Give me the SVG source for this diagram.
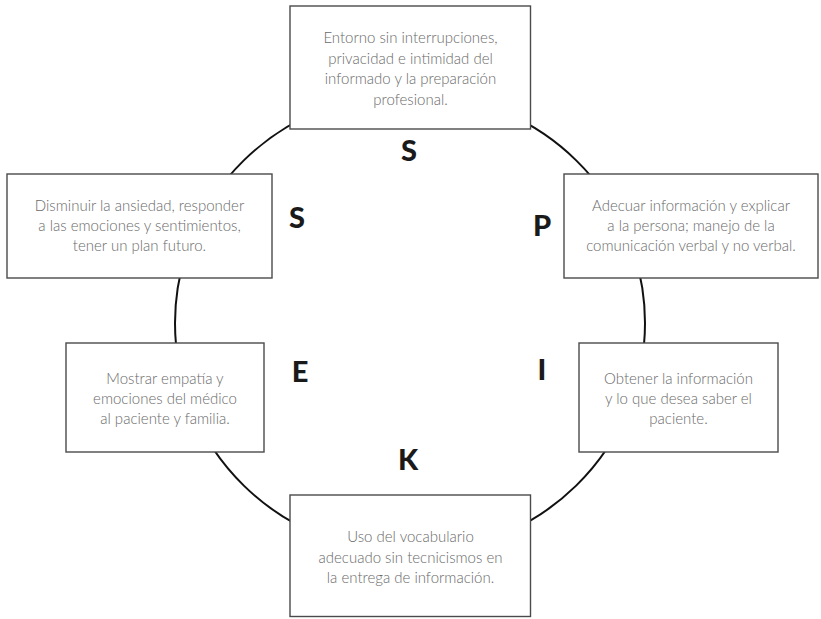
<svg xmlns="http://www.w3.org/2000/svg" width="821" height="619" viewBox="0 0 821 619">
<style>
.box{fill:#fff;stroke:#4a4a4a;stroke-width:1.4}
.t{font-family:Lato,"Liberation Sans",sans-serif;font-weight:300;font-size:15px;fill:#6a6a6a;text-anchor:middle}
.L{font-family:Lato,"Liberation Sans",sans-serif;font-weight:900;font-size:29px;fill:#1a1a1a;text-anchor:middle}
</style>
<rect width="821" height="619" fill="#fff"/>
<g id="connectors">
<ellipse cx="410" cy="323" rx="235" ry="230" fill="none" stroke="#111" stroke-width="2"/>
</g>
<g id="letters">
<text class="L" x="409" y="161">S</text>
<text class="L" x="297" y="228">S</text>
<text class="L" x="542" y="236">P</text>
<text class="L" x="300" y="382">E</text>
<text class="L" x="542" y="380">I</text>
<text class="L" x="408" y="470">K</text>
</g>
<g id="node-top">
<rect class="box" x="290" y="6" width="240.5" height="123"/>
<text class="t" x="410.5" y="43">Entorno sin interrupciones,</text>
<text class="t" x="410.5" y="63.5">privacidad e intimidad del</text>
<text class="t" x="410.5" y="84">informado y la preparación</text>
<text class="t" x="410.5" y="104.5">profesional.</text>
</g>
<g id="node-left-upper">
<rect class="box" x="7" y="174" width="265" height="104"/>
<text class="t" x="139.5" y="210.5">Disminuir la ansiedad, responder</text>
<text class="t" x="139.5" y="231">a las emociones y sentimientos,</text>
<text class="t" x="139.5" y="251">tener un plan futuro.</text>
</g>
<g id="node-right-upper">
<rect class="box" x="564" y="174" width="254" height="104"/>
<text class="t" x="691" y="210.5">Adecuar información y explicar</text>
<text class="t" x="691" y="231">a la persona; manejo de la</text>
<text class="t" x="691" y="251">comunicación verbal y no verbal.</text>
</g>
<g id="node-left-lower">
<rect class="box" x="66" y="343" width="198" height="109"/>
<text class="t" x="165" y="383.5">Mostrar empatía y</text>
<text class="t" x="165" y="403.5">emociones del médico</text>
<text class="t" x="165" y="423.5">al paciente y familia.</text>
</g>
<g id="node-right-lower">
<rect class="box" x="579" y="343" width="199" height="109"/>
<text class="t" x="678.5" y="383.5">Obtener la información</text>
<text class="t" x="678.5" y="403.5">y lo que desea saber el</text>
<text class="t" x="678.5" y="423.5">paciente.</text>
</g>
<g id="node-bottom">
<rect class="box" x="290" y="495" width="240.5" height="121.5"/>
<text class="t" x="410.5" y="542">Uso del vocabulario</text>
<text class="t" x="410.5" y="562.5">adecuado sin tecnicismos en</text>
<text class="t" x="410.5" y="583">la entrega de información.</text>
</g>
</svg>
